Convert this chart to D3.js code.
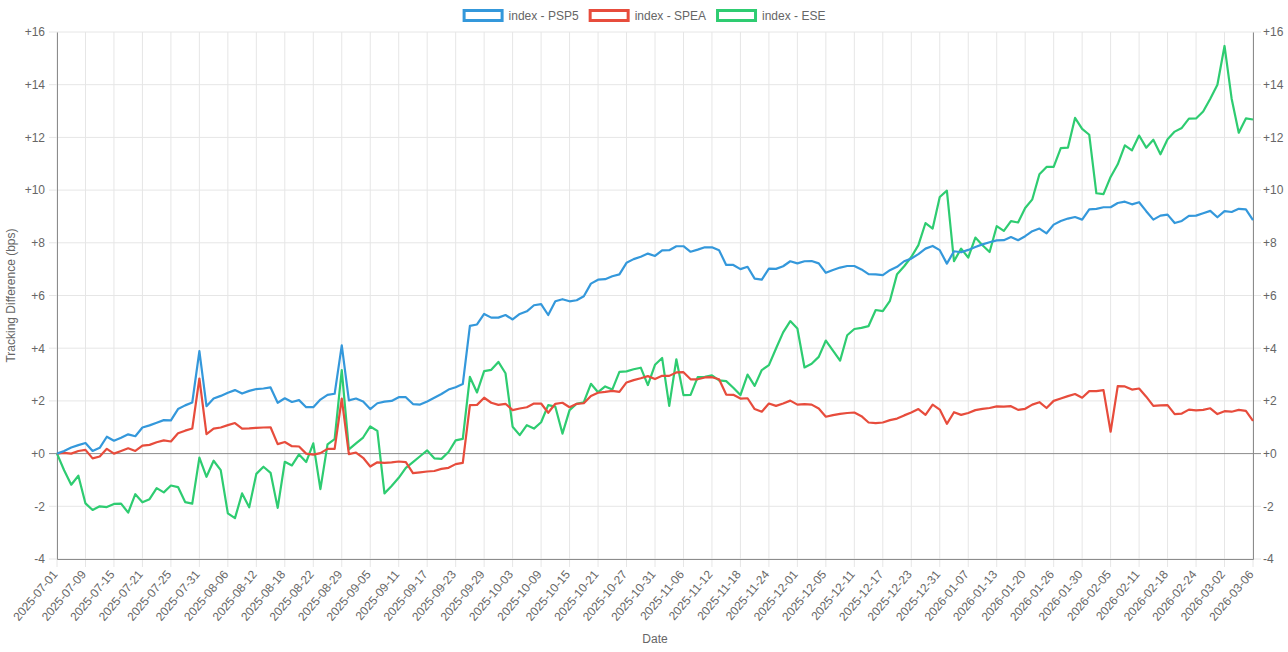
<!DOCTYPE html>
<html>
<head>
<meta charset="utf-8">
<script src="https://cdn.jsdelivr.net/npm/d3@7"></script>
<style>
  html, body { margin: 0; padding: 0; background: #fff; }
  svg { display: block; font-family: "Liberation Sans", Arial, Helvetica, sans-serif; }
</style>
</head>
<body>
<svg id="chart"></svg>
<script>
// trading days (every 4th one gets a tick label)
const dates = [
  "2025-07-01","2025-07-02","2025-07-07","2025-07-08","2025-07-09","2025-07-10","2025-07-11","2025-07-14","2025-07-15","2025-07-16",
  "2025-07-17","2025-07-18","2025-07-21","2025-07-22","2025-07-23","2025-07-24","2025-07-25","2025-07-28","2025-07-29","2025-07-30",
  "2025-07-31","2025-08-01","2025-08-04","2025-08-05","2025-08-06","2025-08-07","2025-08-08","2025-08-11","2025-08-12","2025-08-13",
  "2025-08-14","2025-08-15","2025-08-18","2025-08-19","2025-08-20","2025-08-21","2025-08-22","2025-08-26","2025-08-27","2025-08-28",
  "2025-08-29","2025-09-02","2025-09-03","2025-09-04","2025-09-05","2025-09-08","2025-09-09","2025-09-10","2025-09-11","2025-09-12",
  "2025-09-15","2025-09-16","2025-09-17","2025-09-18","2025-09-19","2025-09-22","2025-09-23","2025-09-24","2025-09-25","2025-09-26",
  "2025-09-29","2025-09-30","2025-10-01","2025-10-02","2025-10-03","2025-10-06","2025-10-07","2025-10-08","2025-10-09","2025-10-10",
  "2025-10-13","2025-10-14","2025-10-15","2025-10-16","2025-10-17","2025-10-20","2025-10-21","2025-10-22","2025-10-23","2025-10-24",
  "2025-10-27","2025-10-28","2025-10-29","2025-10-30","2025-10-31","2025-11-03","2025-11-04","2025-11-05","2025-11-06","2025-11-07",
  "2025-11-10","2025-11-11","2025-11-12","2025-11-13","2025-11-14","2025-11-17","2025-11-18","2025-11-19","2025-11-20","2025-11-21",
  "2025-11-24","2025-11-25","2025-11-26","2025-11-28","2025-12-01","2025-12-02","2025-12-03","2025-12-04","2025-12-05","2025-12-08",
  "2025-12-09","2025-12-10","2025-12-11","2025-12-12","2025-12-15","2025-12-16","2025-12-17","2025-12-18","2025-12-19","2025-12-22",
  "2025-12-23","2025-12-24","2025-12-29","2025-12-30","2025-12-31","2026-01-02","2026-01-05","2026-01-06","2026-01-07","2026-01-08",
  "2026-01-09","2026-01-12","2026-01-13","2026-01-14","2026-01-15","2026-01-16","2026-01-20","2026-01-21","2026-01-22","2026-01-23",
  "2026-01-26","2026-01-27","2026-01-28","2026-01-29","2026-01-30","2026-02-02","2026-02-03","2026-02-04","2026-02-05","2026-02-06",
  "2026-02-09","2026-02-10","2026-02-11","2026-02-12","2026-02-13","2026-02-17","2026-02-18","2026-02-19","2026-02-20","2026-02-23",
  "2026-02-24","2026-02-25","2026-02-26","2026-02-27","2026-03-02","2026-03-03","2026-03-04","2026-03-05","2026-03-06"
];

const psp5 = [
  0,0.1,0.23,0.32,0.4,0.1,0.22,0.64,0.49,0.6,
  0.73,0.66,0.99,1.07,1.17,1.27,1.26,1.69,1.83,1.94,
  3.89,1.8,2.09,2.19,2.31,2.41,2.28,2.38,2.45,2.47,
  2.51,1.93,2.1,1.96,2.03,1.76,1.76,2.05,2.23,2.27,
  4.11,2.02,2.09,1.98,1.69,1.91,1.97,2.0,2.14,2.14,
  1.88,1.86,1.98,2.12,2.26,2.43,2.52,2.64,4.85,4.9,
  5.3,5.16,5.16,5.26,5.09,5.3,5.4,5.63,5.67,5.26,
  5.78,5.86,5.78,5.82,5.97,6.45,6.6,6.62,6.73,6.8,
  7.24,7.38,7.47,7.59,7.5,7.71,7.72,7.87,7.87,7.66,
  7.74,7.83,7.83,7.72,7.16,7.16,7.0,7.09,6.64,6.6,
  7.02,7.01,7.11,7.3,7.22,7.3,7.31,7.22,6.86,6.97,
  7.06,7.12,7.12,6.99,6.81,6.8,6.77,6.96,7.09,7.3,
  7.4,7.57,7.78,7.88,7.72,7.21,7.68,7.64,7.73,7.84,
  7.94,8.02,8.09,8.1,8.22,8.1,8.25,8.44,8.54,8.36,
  8.69,8.83,8.92,8.98,8.88,9.27,9.29,9.35,9.35,9.51,
  9.56,9.46,9.54,9.2,8.88,9.03,9.07,8.75,8.83,9.02,
  9.03,9.12,9.21,8.97,9.2,9.17,9.29,9.27,8.86
];

const spea = [
  0,0.03,0,0.1,0.14,-0.18,-0.11,0.18,0,0.1,
  0.2,0.1,0.3,0.33,0.43,0.5,0.46,0.77,0.87,0.95,
  2.85,0.74,0.95,0.99,1.08,1.16,0.95,0.96,0.98,0.99,
  1.0,0.36,0.44,0.28,0.27,0,-0.04,0.02,0.18,0.18,
  2.09,-0.02,0.04,-0.16,-0.49,-0.33,-0.35,-0.33,-0.3,-0.32,
  -0.74,-0.71,-0.68,-0.66,-0.58,-0.54,-0.4,-0.35,1.84,1.85,
  2.12,1.93,1.85,1.89,1.65,1.71,1.76,1.9,1.9,1.55,
  1.89,1.93,1.76,1.89,1.91,2.19,2.31,2.34,2.38,2.34,
  2.7,2.79,2.86,2.94,2.83,2.95,2.95,3.08,3.09,2.82,
  2.82,2.89,2.9,2.82,2.24,2.23,2.09,2.1,1.69,1.59,
  1.9,1.81,1.9,2.01,1.86,1.88,1.86,1.71,1.4,1.46,
  1.51,1.54,1.56,1.42,1.18,1.16,1.18,1.27,1.33,1.45,
  1.56,1.69,1.47,1.86,1.67,1.13,1.57,1.47,1.54,1.65,
  1.7,1.73,1.79,1.78,1.8,1.66,1.7,1.86,1.95,1.73,
  2.0,2.09,2.18,2.26,2.12,2.37,2.37,2.41,0.83,2.56,
  2.55,2.43,2.47,2.16,1.81,1.83,1.84,1.5,1.52,1.67,
  1.64,1.66,1.72,1.5,1.61,1.59,1.66,1.62,1.24
];

const ese = [
  0,-0.63,-1.18,-0.84,-1.89,-2.14,-2.0,-2.03,-1.91,-1.9,
  -2.24,-1.54,-1.85,-1.73,-1.31,-1.47,-1.21,-1.27,-1.84,-1.9,
  -0.15,-0.88,-0.27,-0.63,-2.27,-2.45,-1.51,-2.04,-0.77,-0.5,
  -0.73,-2.06,-0.31,-0.45,-0.03,-0.32,0.39,-1.35,0.35,0.55,
  3.17,0.16,0.39,0.61,1.03,0.86,-1.51,-1.23,-0.92,-0.54,
  -0.32,-0.1,0.12,-0.18,-0.2,0.06,0.5,0.56,2.91,2.32,
  3.13,3.18,3.48,3.05,1.02,0.7,1.08,0.95,1.19,1.84,
  1.78,0.76,1.65,1.89,1.95,2.65,2.33,2.55,2.43,3.1,
  3.12,3.2,3.26,2.6,3.37,3.63,1.81,3.58,2.22,2.23,
  2.9,2.91,2.97,2.78,2.75,2.5,2.22,3.0,2.57,3.17,
  3.36,3.99,4.6,5.03,4.75,3.27,3.41,3.67,4.29,3.91,
  3.53,4.49,4.73,4.77,4.84,5.45,5.41,5.8,6.81,7.11,
  7.46,7.91,8.75,8.54,9.74,9.98,7.3,7.78,7.44,8.2,
  7.91,7.65,8.63,8.45,8.82,8.77,9.32,9.65,10.6,10.88,
  10.88,11.59,11.61,12.74,12.32,12.1,9.88,9.85,10.5,10.98,
  11.7,11.51,12.07,11.61,11.91,11.36,11.93,12.22,12.36,12.71,
  12.72,12.98,13.47,14.0,15.47,13.47,12.18,12.72,12.68
];

const seriesNames = ["index - PSP5","index - SPEA","index - ESE"];
const seriesColors = ["#3498db","#e74c3c","#2ecc71"];
const yTicks = [-4,-2,0,2,4,6,8,10,12,14,16];

class Line_chart{
    constructor(config){
        this.config = config;
        this.init();
    }
    init(){
        let self = this;
        let c = self.config;
        self.inner_width = c.width-c.margin.left-c.margin.right;
        self.inner_height = c.height-c.margin.top-c.margin.bottom;

        self.svg = d3.select(c.parent)
            .attr("width",c.width)
            .attr("height",c.height);

        self.chart = self.svg.append("g")
            .attr("transform",`translate(${c.margin.left},${c.margin.top})`);

        self.xscale = d3.scalePoint().domain(dates).range([0,self.inner_width]);
        self.yscale = d3.scaleLinear().domain([-4,16]).range([self.inner_height,0]);
    }
    render(){
        let self = this;
        let c = self.config;
        let W = self.inner_width, H = self.inner_height;
        let tickDates = dates.filter((d,i)=>i%4===0);
        let fmt = v => (v>=0?"+":"")+v;

        // grid
        self.chart.append("g").selectAll("line").data(tickDates).enter().append("line")
            .attr("x1",d=>self.xscale(d)).attr("x2",d=>self.xscale(d))
            .attr("y1",0).attr("y2",H+8)
            .attr("stroke","#e6e6e6");
        self.chart.append("g").selectAll("line").data(yTicks).enter().append("line")
            .attr("x1",-8).attr("x2",W+8)
            .attr("y1",d=>self.yscale(d)).attr("y2",d=>self.yscale(d))
            .attr("stroke",d=>d===0?"#8c8c8c":"#e6e6e6");

        // axes
        let yl = d3.axisLeft(self.yscale).tickValues(yTicks).tickFormat(fmt).tickSize(0).tickPadding(12);
        let yr = d3.axisRight(self.yscale).tickValues(yTicks).tickFormat(fmt).tickSize(0).tickPadding(10);
        let xb = d3.axisBottom(self.xscale).tickValues(tickDates).tickSize(0).tickFormat("");
        let gl = self.chart.append("g").call(yl);
        let gr = self.chart.append("g").attr("transform",`translate(${W},0)`).call(yr);
        let gb = self.chart.append("g").attr("transform",`translate(0,${H})`).call(xb);
        [gl,gr,gb].forEach(g=>{
            g.select(".domain").attr("stroke","#8c8c8c");
            g.selectAll("text").attr("fill","#666").attr("font-size",12)
                .attr("font-family","Liberation Sans, Arial, sans-serif");
        });

        // rotated date labels
        self.chart.append("g").selectAll("text").data(tickDates).enter().append("text")
            .attr("transform",d=>`translate(${self.xscale(d)-2},${H+13}) rotate(-50)`)
            .attr("text-anchor","end")
            .attr("dy","0.35em")
            .attr("font-size",12)
            .attr("fill","#666")
            .text(d=>d);

        // lines (first dataset on top)
        let line = d3.line().x((d,i)=>self.xscale(dates[i])).y(d=>self.yscale(d));
        let all = [psp5,spea,ese];
        for(let k=all.length-1;k>=0;k--){
            self.chart.append("path")
                .datum(all[k])
                .attr("d",line)
                .attr("fill","none")
                .attr("stroke",seriesColors[k])
                .attr("stroke-width",2.2)
                .attr("stroke-linejoin","round");
        }

        // axis titles
        self.svg.append("text")
            .attr("x",c.margin.left+W/2).attr("y",c.height-9)
            .attr("text-anchor","middle").attr("font-size",12).attr("fill","#666")
            .text("Date");
        self.svg.append("text")
            .attr("transform","rotate(-90)")
            .attr("x",-(c.margin.top+H/2)).attr("y",15)
            .attr("text-anchor","middle").attr("font-size",12).attr("fill","#666")
            .text("Tracking Difference (bps)");

        // legend
        let leg = self.svg.append("g");
        let xpos = 0;
        seriesNames.forEach((name,k)=>{
            let g = leg.append("g").attr("transform",`translate(${xpos},0)`);
            g.append("rect").attr("x",1.5).attr("y",10.5).attr("width",38).attr("height",10)
                .attr("fill","#fff").attr("stroke",seriesColors[k]).attr("stroke-width",3);
            let t = g.append("text").attr("x",46).attr("y",20).attr("font-size",12)
                .attr("fill","#666").text(name);
            xpos += 46+t.node().getComputedTextLength()+10;
        });
        let total = xpos-10;
        leg.attr("transform",`translate(${(c.width-total)/2},0)`);
    }
}

let chart = new Line_chart({
    parent:"#chart",
    width:1288,
    height:652,
    margin:{top:32,right:35,bottom:93,left:57}
});
chart.render();
</script>
</body>
</html>
